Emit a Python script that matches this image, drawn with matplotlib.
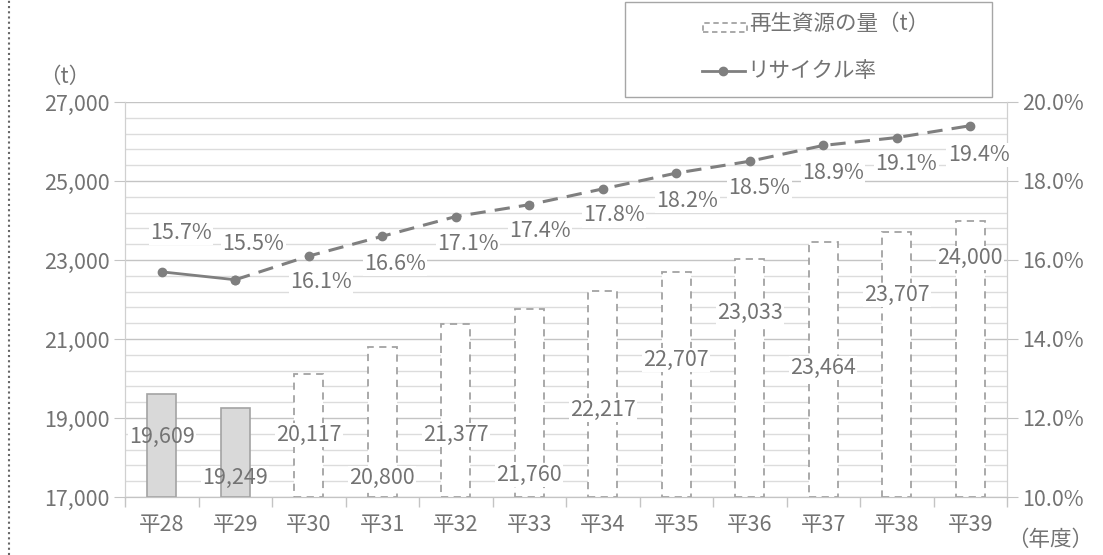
import matplotlib.pyplot as plt
from matplotlib.lines import Line2D
from matplotlib.patches import Rectangle
from matplotlib.ticker import FixedLocator, MultipleLocator, FuncFormatter

plt.rcParams['font.family'] = ['Noto Sans CJK JP', 'DejaVu Sans']

years = ["平28", "平29", "平30", "平31", "平32", "平33",
         "平34", "平35", "平36", "平37", "平38", "平39"]
amount = [19609, 19249, 20117, 20800, 21377, 21760,
          22217, 22707, 23033, 23464, 23707, 24000]
rate = [15.7, 15.5, 16.1, 16.6, 17.1, 17.4, 17.8, 18.2, 18.5, 18.9, 19.1, 19.4]
n_actual = 2  # 平28, 平29 are actual results, the rest are forecasts

# where the bar value labels sit (data units on the left axis)
amount_label_y = [18520, 17480, 18570, 17480, 18570, 17560,
                  19200, 20470, 21660, 20270, 22110, 23050]
# offset (points) of the rate labels from their markers
rate_label_dy = [28, 26, -19, -20, -20, -19, -19, -20, -19, -20, -19, -21]
rate_label_dx = [14, 13, 9, 9, 9, 8, 8, 8, 7, 7, 7, 6]

TXT = "#737373"
EDGE = "#a3a3a3"
LINE = "#7f7f7f"
FS = 15.5

W, H = 1103, 555
fig = plt.figure(figsize=(W / 100, H / 100), dpi=100)
ax = fig.add_axes([125 / W, 58 / H, 882 / W, 395 / H])
ax2 = ax.twinx()

x = list(range(len(years)))
label_box = dict(facecolor="white", edgecolor="none", pad=1.0)

# bars: actual values solid grey, forecasts dashed outline
for i, v in enumerate(amount):
    if i < n_actual:
        ax.bar(i, v - 17000, bottom=17000, width=0.39, color="#d9d9d9",
               edgecolor=EDGE, linewidth=1.2, zorder=3)
    else:
        ax.bar(i, v - 17000, bottom=17000, width=0.39, facecolor="white",
               edgecolor=EDGE, linewidth=1.3, linestyle=(0, (4, 3)), zorder=3)
    # white backing clears the gridlines; it stays under the solid bars
    ax.text(i, amount_label_y[i], f"{v:,}", ha="center", va="center",
            fontsize=FS, color="white", bbox=label_box,
            zorder=2 if i < n_actual else 4)
    ax.text(i, amount_label_y[i], f"{v:,}", ha="center", va="center",
            fontsize=FS, color=TXT, zorder=5)

ax.set_xlim(-0.5, 11.5)
ax.set_ylim(17000, 27000)
ax.yaxis.set_major_locator(FixedLocator(range(17000, 27001, 2000)))
ax.yaxis.set_minor_locator(FixedLocator(range(17000, 27001, 400)))
ax.yaxis.set_major_formatter(FuncFormatter(lambda v, p: f"{int(v):,}"))
ax.grid(axis="y", which="major", color="#c4c4c4", linewidth=1.0, zorder=0)
ax.grid(axis="y", which="minor", color="#dcdcdc", linewidth=1.0, zorder=0)
ax.set_axisbelow(True)

ax.set_xticks(x)
ax.set_xticklabels(years)
ax.set_xticks([i + 0.5 for i in range(-1, 12)], minor=True)
ax.tick_params(axis="x", which="major", length=0, pad=12, labelsize=FS,
               labelcolor=TXT)
ax.tick_params(axis="x", which="minor", length=7, color="#c4c4c4", width=1)
ax.tick_params(axis="y", which="major", length=8, color="#c4c4c4",
               labelsize=FS, labelcolor=TXT, pad=3)
ax.tick_params(axis="y", which="minor", length=0)

for a in (ax, ax2):
    a.spines["top"].set_visible(False)
    a.spines["left"].set_color("#d0d0d0")
    a.spines["right"].set_color("#d0d0d0")
    a.spines["bottom"].set_color("#c4c4c4")

# recycling rate line: solid for actual, dashed for forecast
ax2.plot(x[:n_actual], rate[:n_actual], color=LINE, linewidth=2,
         marker="o", markersize=6, zorder=4)
ax2.plot(x[n_actual - 1:], rate[n_actual - 1:], color=LINE, linewidth=2.2,
         linestyle=(0, (5, 3)), marker="o", markersize=6, zorder=4)
for i, r in enumerate(rate):
    ax2.annotate(f"{r:.1f}%", (i, r), xytext=(rate_label_dx[i], rate_label_dy[i]),
                 textcoords="offset points", ha="center", va="center",
                 fontsize=FS, color=TXT, bbox=label_box, zorder=5)

ax2.set_ylim(10, 20)
ax2.yaxis.set_major_locator(MultipleLocator(2))
ax2.yaxis.set_major_formatter(FuncFormatter(lambda v, p: f"{v:.1f}%"))
ax2.tick_params(axis="y", length=8, color="#c4c4c4", labelsize=FS,
                labelcolor=TXT, pad=3)

fig.text(65 / W, 1 - 77 / H, "（t）", ha="center", va="center",
         fontsize=FS, color=TXT)
fig.text(1050 / W, 1 - 540 / H, "（年度）", ha="center", va="center",
         fontsize=FS, color=TXT)


# legend box drawn by hand in pixel coordinates
def px(xp, yp):
    return xp / W, 1 - yp / H


fig.add_artist(Rectangle(px(625, 97), 367 / W, 95 / H, transform=fig.transFigure,
                         facecolor="white", edgecolor="#a6a6a6", linewidth=1.0))
fig.add_artist(Rectangle(px(703, 32), 44 / W, 9 / H, transform=fig.transFigure,
                         facecolor="white", edgecolor=EDGE, linewidth=1.3,
                         linestyle=(0, (3, 2))))
fig.text(*px(749, 24), "再生資源の量（t）", ha="left", va="center",
         fontsize=FS, color=TXT)
fig.add_artist(Line2D([702 / W, 745 / W], [1 - 71 / H] * 2,
                      transform=fig.transFigure, color=LINE, linewidth=2))
fig.add_artist(Line2D([723 / W], [1 - 71 / H], transform=fig.transFigure,
                      color=LINE, marker="o", markersize=6))
fig.text(*px(747, 71), "リサイクル率", ha="left", va="center",
         fontsize=FS, color=TXT)

# dotted frame edge on the left
fig.add_artist(Line2D([9 / W, 9 / W], [0, 1], transform=fig.transFigure,
                      color="#666666", linewidth=1.5, linestyle=(0, (1, 1.5))))

fig.savefig("out.png", dpi=100)
